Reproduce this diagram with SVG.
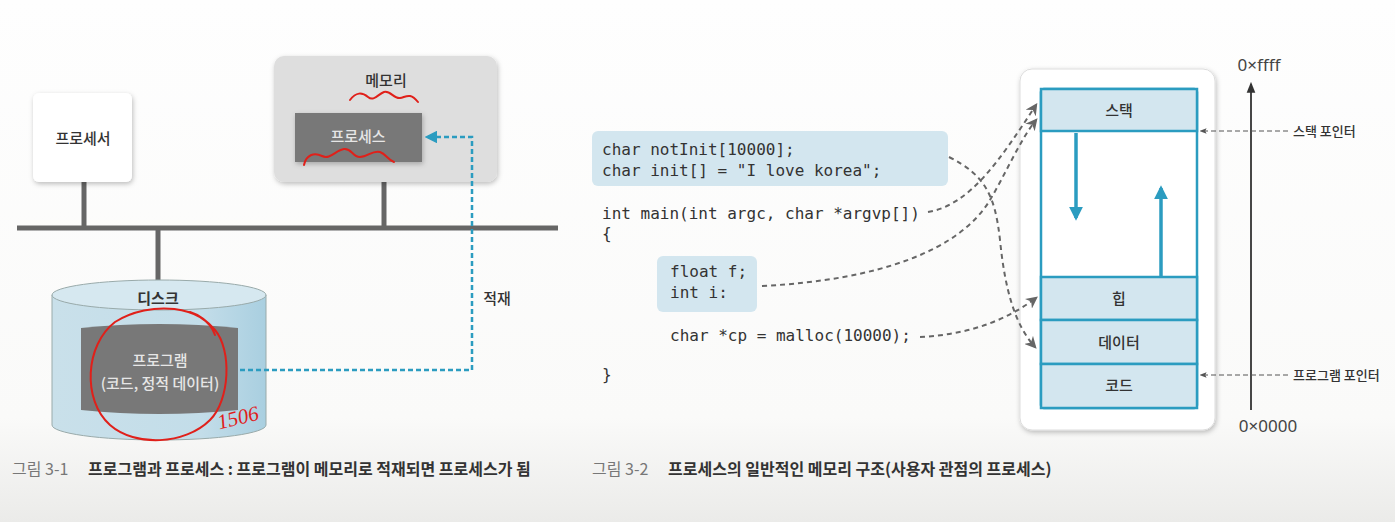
<svg xmlns="http://www.w3.org/2000/svg" width="1395" height="522" viewBox="0 0 1395 522">
<defs>
<linearGradient id="bg" x1="0" y1="0" x2="0" y2="1">
<stop offset="0" stop-color="#fefefe"/><stop offset="0.8" stop-color="#fafaf9"/><stop offset="1" stop-color="#ebebe9"/>
</linearGradient>
<linearGradient id="cyl" x1="0" y1="0" x2="1" y2="0">
<stop offset="0" stop-color="#c9e0ea"/><stop offset="0.7" stop-color="#c3dde9"/><stop offset="1" stop-color="#a9cfe0"/>
</linearGradient>
<filter id="sh" x="-20%" y="-20%" width="140%" height="140%">
<feDropShadow dx="1" dy="2" stdDeviation="2.5" flood-color="#000" flood-opacity="0.25"/>
</filter>
<marker id="ab" viewBox="0 0 10 10" refX="8" refY="5" markerWidth="5" markerHeight="5" orient="auto"><path d="M0,0 L10,5 L0,10 Z" fill="#2b9cc0"/></marker>
<marker id="ag" viewBox="0 0 10 10" refX="8" refY="5" markerWidth="6" markerHeight="6" orient="auto"><path d="M0,0 L10,5 L0,10 L3,5 Z" fill="#666"/></marker>
<marker id="ak" viewBox="0 0 10 10" refX="8" refY="5" markerWidth="6" markerHeight="6" orient="auto"><path d="M0,1 L10,5 L0,9 Z" fill="#333"/></marker>
<marker id="at" viewBox="0 0 10 10" refX="8" refY="5" markerWidth="4" markerHeight="4" orient="auto"><path d="M0,0 L10,5 L0,10 Z" fill="#2b9cc0"/></marker>
<marker id="ap" viewBox="0 0 10 10" refX="8" refY="5" markerWidth="7" markerHeight="7" orient="auto"><path d="M0,1 L10,5 L0,9 L2,5 Z" fill="#555"/></marker>
</defs>
<style>
.k{font-family:"Noto Sans CJK KR","Noto Sans",sans-serif;}
.lbl{font-size:15px;fill:#333;text-anchor:middle;font-weight:500;}
.code{font-family:"DejaVu Sans Mono","Liberation Mono",monospace;font-size:16px;fill:#333;}
.cap{font-size:16px;}
.seg{fill:#d3e6ef;stroke:#2b9cc0;stroke-width:2.5;}
.bus{stroke:#666;stroke-width:5;fill:none;}
.red{stroke:#e0201a;stroke-width:2;fill:none;stroke-linecap:round;stroke-linejoin:round;}
.gd{stroke:#666;stroke-width:2;stroke-dasharray:5 4;fill:none;}
.pd{stroke:#555;stroke-width:1;stroke-dasharray:5 3;fill:none;}
</style>
<rect width="1395" height="522" fill="url(#bg)"/>

<g id="bus">
<line class="bus" x1="17" y1="228" x2="558" y2="228"/>
<line class="bus" x1="84" y1="182" x2="84" y2="228"/>
<line class="bus" x1="384" y1="182" x2="384" y2="228"/>
<line class="bus" x1="158" y1="228" x2="158" y2="284"/>
</g>

<g id="processor">
<rect x="33" y="93" width="99" height="89" rx="6" fill="#fff" filter="url(#sh)"/>
<text class="k lbl" x="83" y="144">프로세서</text>
</g>

<g id="memory">
<rect x="274" y="56" width="223" height="126" rx="10" fill="#dedede" filter="url(#sh)"/>
<text class="k lbl" x="386" y="86">메모리</text>
<path class="red" d="M350,100 C356,92 362,92 368,97 C374,102 378,94 384,92 C390,90 394,99 400,98 C406,97 410,92 418,102"/>
<rect x="295" y="113" width="127" height="49" fill="#787878" filter="url(#sh)"/>
<text class="k lbl" x="358" y="142" style="fill:#e6e6e6">프로세스</text>
<path class="red" d="M304,165 C306,155 314,152 322,156 C330,160 336,150 344,149 C352,148 352,157 360,157 C368,157 372,150 380,152 C386,154 388,160 394,162"/>
</g>

<g id="disk">
<path d="M52,295 L52,425 A107,15 0 0 0 266,425 L266,295 Z" fill="url(#cyl)" stroke="#9aa" stroke-width="1"/>
<ellipse cx="159" cy="295" rx="107" ry="15" fill="#d6e8f0" stroke="#9aa" stroke-width="1"/>
<text class="k lbl" x="158" y="304" style="font-weight:700">디스크</text>
<path d="M81,328 Q159,320 238,328 L238,410 Q159,418 81,410 Z" fill="#787878"/>
<text class="k lbl" x="160" y="366" style="fill:#e6e6e6">프로그램</text>
<text class="k lbl" x="160" y="389" style="fill:#e6e6e6">(코드, 정적 데이터)</text>
<path class="red" d="M215,335 C205,305 150,300 115,322 C85,345 82,400 110,425 C135,447 185,445 210,420 C230,400 232,350 215,330 C208,322 200,315 190,312"/>
<text x="216" y="426" font-family="Liberation Serif,serif" font-style="italic" font-size="21" fill="#e0201a" transform="rotate(-14 232 415)">1506</text>
</g>

<g id="load">
<polyline points="240,370 472,370 472,137 427,137" fill="none" stroke="#2b9cc0" stroke-width="2.5" stroke-dasharray="5 3" marker-end="url(#ab)"/>
<text class="k lbl" x="497" y="304">적재</text>
</g>

<text class="k cap" x="12" y="475" fill="#777">그림 3-1</text>
<text class="k cap" x="88" y="475" fill="#333" font-weight="700">프로그램과 프로세스 : 프로그램이 메모리로 적재되면 프로세스가 됨</text>

<g id="code">
<rect x="592" y="131" width="356" height="55" rx="6" fill="#d3e6ef"/>
<text class="code" x="602" y="155">char notInit[10000];</text>
<text class="code" x="602" y="176">char init[] = "I love korea";</text>
<text class="code" x="602" y="219">int main(int argc, char *argvp[])</text>
<text class="code" x="602" y="239">{</text>
<rect x="657" y="256" width="100" height="56" rx="6" fill="#d3e6ef"/>
<text class="code" x="670" y="277">float f;</text>
<text class="code" x="670" y="298">int i:</text>
<text class="code" x="670" y="341">char *cp = malloc(10000);</text>
<text class="code" x="602" y="380">}</text>
</g>

<g id="memmap">
<rect x="1020" y="69" width="195" height="361" rx="12" fill="#fff" stroke="#ddd" filter="url(#sh)"/>
<rect x="1041" y="89" width="156" height="319" rx="3" fill="#fff" stroke="#2b9cc0" stroke-width="2.5"/>
<rect class="seg" x="1041" y="89" width="156" height="42"/>
<rect class="seg" x="1041" y="277" width="156" height="43"/>
<rect class="seg" x="1041" y="320" width="156" height="44"/>
<rect class="seg" x="1041" y="364" width="156" height="44"/>
<text class="k lbl" x="1119" y="116">스택</text>
<text class="k lbl" x="1119" y="304">힙</text>
<text class="k lbl" x="1119" y="348">데이터</text>
<text class="k lbl" x="1119" y="391">코드</text>
<line x1="1076" y1="133" x2="1076" y2="218" stroke="#2b9cc0" stroke-width="3.5" marker-end="url(#at)"/>
<line x1="1161" y1="276" x2="1161" y2="188" stroke="#2b9cc0" stroke-width="3.5" marker-end="url(#at)"/>
</g>

<g id="axis">
<line x1="1251" y1="410" x2="1251" y2="84" stroke="#333" stroke-width="1.8" marker-end="url(#ak)"/>
<text x="1259" y="71" font-family="Noto Sans,sans-serif" font-size="17" fill="#444" text-anchor="middle">0×ffff</text>
<text x="1268" y="432" font-family="Noto Sans,sans-serif" font-size="17" fill="#444" text-anchor="middle">0×0000</text>
<line class="pd" x1="1288" y1="131" x2="1201" y2="131" marker-end="url(#ap)"/>
<text class="k" x="1293" y="136" font-size="13" fill="#333" font-weight="500">스택 포인터</text>
<line class="pd" x1="1288" y1="375" x2="1201" y2="375" marker-end="url(#ap)"/>
<text class="k" x="1293" y="380" font-size="13" fill="#333" font-weight="500">프로그램 포인터</text>
</g>

<g id="connectors">
<path class="gd" d="M949,157 C985,175 995,195 1000,240 C1005,290 1015,325 1035,347" marker-end="url(#ag)"/>
<path class="gd" d="M928,212 C970,205 1000,160 1036,105" marker-end="url(#ag)"/>
<path class="gd" d="M762,286 C880,280 960,250 990,200 C1005,175 1020,140 1036,120" marker-end="url(#ag)"/>
<path class="gd" d="M920,337 C960,335 1000,325 1036,298" marker-end="url(#ag)"/>
</g>

<text class="k cap" x="592" y="475" fill="#777">그림 3-2</text>
<text class="k cap" x="668" y="475" fill="#333" font-weight="700">프로세스의 일반적인 메모리 구조(사용자 관점의 프로세스)</text>
</svg>
